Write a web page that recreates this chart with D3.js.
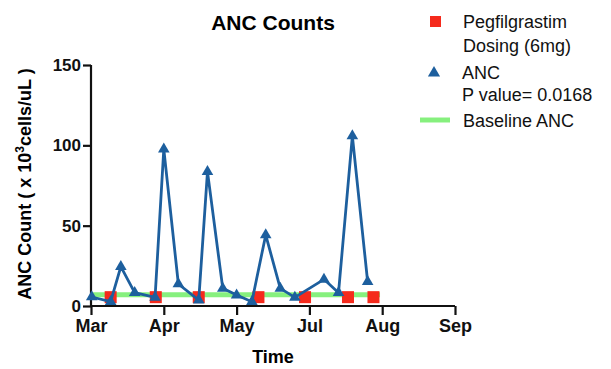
<!DOCTYPE html>
<html>
<head>
<meta charset="utf-8">
<script src="https://cdn.jsdelivr.net/npm/d3@7"></script>
<style>
  body { margin: 0; background: #fff; }
  text { font-family: "Liberation Sans", Arial, sans-serif; }
</style>
</head>
<body>
<div id="chart"></div>
<script>
// tick labels (evenly spaced, as in the source)
const monthLabels = ["Mar", "Apr", "May", "Jul", "Aug", "Sep"];
const yTicks = [0, 50, 100, 150];

// ANC readings, x in tick units from Mar
const ancX = [0.01, 0.27, 0.41, 0.60, 0.88, 1.00, 1.20, 1.48, 1.60, 1.81, 2.00, 2.21, 2.40, 2.60, 2.80, 3.20, 3.40, 3.59, 3.80];
const ancY = [5.6, 2.7, 24.5, 8.3, 5.4, 97.6, 13.7, 3.7, 83.6, 11, 6.8, 2.7, 44.2, 11, 5.4, 16.6, 8.3, 105.8, 15.1];

// Pegfilgrastim dosing
const doseX = [0.27, 0.89, 1.48, 2.30, 2.94, 3.53, 3.88];
const doseY = [5.5, 5.5, 5.5, 5.5, 5.5, 5.5, 5.5];

// baseline ANC
const baseX = [0, 3.97];
const baseY = [7, 7];

const blue = "#1d5f9e";
const red = "#f52a1c";
const green = "#86f07e";

const svgWidth = 611, svgHeight = 369;
const svg = d3.select("#chart").append("svg")
  .attr("width", svgWidth)
  .attr("height", svgHeight);

const xScale = d3.scaleLinear().domain([0, 5]).range([91, 455]);
const yScale = d3.scaleLinear().domain([0, 150]).range([306, 65]);

// axes
const xAxis = d3.axisBottom(xScale)
  .tickValues(d3.range(monthLabels.length))
  .tickFormat(i => monthLabels[i])
  .tickSize(9)
  .tickPadding(4);

const xg = svg.append("g")
  .attr("transform", `translate(0,${yScale(0)})`)
  .call(xAxis);

const yAxis = d3.axisLeft(yScale)
  .tickValues(yTicks)
  .tickSize(8)
  .tickPadding(2);

const yg = svg.append("g")
  .attr("transform", `translate(${xScale(0)},0)`)
  .call(yAxis);

[xg, yg].forEach(g => {
  g.selectAll(".domain, .tick line").attr("stroke", "#111").attr("stroke-width", 2.2);
  g.select(".domain").attr("d", g === xg
    ? `M${xScale(0)},0H${xScale(5)}`
    : `M0,${yScale(150)}V${yScale(0)}`);
  g.selectAll(".tick text")
    .attr("fill", "#111")
    .style("font-weight", "bold");
});
xg.selectAll(".tick text").style("font-size", "18px");
yg.selectAll(".tick text").style("font-size", "17px");

// baseline
const line = d3.line().x(d => xScale(d[0])).y(d => yScale(d[1]));
svg.append("path")
  .datum(d3.zip(baseX, baseY))
  .attr("d", line)
  .attr("stroke", green)
  .attr("stroke-width", 5)
  .attr("fill", "none");

// dosing squares
const sq = 12;
svg.selectAll(".dose")
  .data(d3.zip(doseX, doseY))
  .enter()
  .append("rect")
  .attr("class", "dose")
  .attr("x", d => xScale(d[0]) - sq / 2)
  .attr("y", d => yScale(d[1]) - sq / 2)
  .attr("width", sq)
  .attr("height", sq)
  .attr("fill", red);

// ANC line and triangles
const ancData = d3.zip(ancX, ancY);
svg.append("path")
  .datum(ancData)
  .attr("d", line)
  .attr("stroke", blue)
  .attr("stroke-width", 2.8)
  .attr("stroke-linejoin", "round")
  .attr("fill", "none");

const tri = d3.symbol().type(d3.symbolTriangle).size(58);
svg.selectAll(".anc")
  .data(ancData)
  .enter()
  .append("path")
  .attr("class", "anc")
  .attr("d", tri)
  .attr("transform", d => `translate(${xScale(d[0])},${yScale(d[1])})`)
  .attr("fill", blue);

// title and axis titles
svg.append("text")
  .attr("x", 273).attr("y", 30)
  .attr("text-anchor", "middle")
  .style("font-size", "21px").style("font-weight", "bold")
  .text("ANC Counts");

svg.append("text")
  .attr("x", 273).attr("y", 363)
  .attr("text-anchor", "middle")
  .style("font-size", "18px").style("font-weight", "bold")
  .text("Time");

const yl = svg.append("text")
  .attr("transform", "translate(31,184) rotate(-90)")
  .attr("text-anchor", "middle")
  .style("font-size", "18px").style("font-weight", "bold");
yl.append("tspan").text("ANC Count ( x 10");
yl.append("tspan").attr("dy", -7).style("font-size", "12px").text("3");
yl.append("tspan").attr("dy", 7).text("cells/uL )");

// legend
const legend = svg.append("g");
legend.append("rect")
  .attr("x", 430).attr("y", 16).attr("width", 11).attr("height", 11)
  .attr("fill", red);
legend.append("path")
  .attr("d", d3.symbol().type(d3.symbolTriangle).size(64))
  .attr("transform", "translate(434,73)")
  .attr("fill", blue);
legend.append("line")
  .attr("x1", 420).attr("x2", 450).attr("y1", 120).attr("y2", 120)
  .attr("stroke", green).attr("stroke-width", 5);

const legendText = [
  { t: "Pegfilgrastim", x: 463, y: 28 },
  { t: "Dosing (6mg)", x: 463, y: 52 },
  { t: "ANC", x: 462, y: 79 },
  { t: "P value= 0.0168", x: 462, y: 101 },
  { t: "Baseline ANC", x: 463, y: 127 }
];
legend.selectAll(".lt")
  .data(legendText)
  .enter()
  .append("text")
  .attr("x", d => d.x).attr("y", d => d.y)
  .style("font-size", "18px")
  .attr("fill", "#111")
  .text(d => d.t);
</script>
</body>
</html>
